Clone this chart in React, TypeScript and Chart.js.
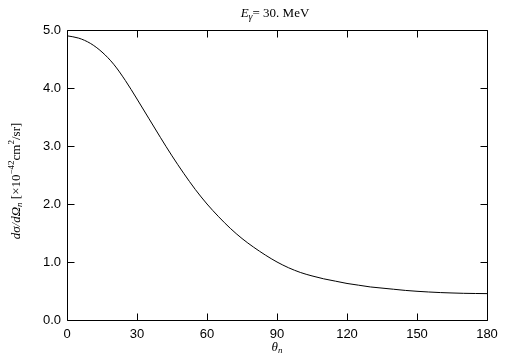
import React, { useEffect, useRef } from "react";
import { Chart, registerables } from "chart.js";

Chart.register(...registerables);

const angles = [0, 5, 10, 15, 20, 25, 30, 35, 40, 45, 50, 55, 60, 65, 70, 75, 80, 85, 90, 95, 100, 105, 110, 115, 120, 125, 130, 135, 140, 145, 150, 155, 160, 165, 170, 175, 180];
const crossSection = [4.9, 4.86, 4.77, 4.62, 4.41, 4.13, 3.81, 3.48, 3.15, 2.83, 2.53, 2.25, 2.0, 1.78, 1.58, 1.405, 1.255, 1.12, 1.0, 0.9, 0.82, 0.76, 0.71, 0.67, 0.63, 0.6, 0.57, 0.55, 0.53, 0.51, 0.495, 0.483, 0.473, 0.466, 0.46, 0.457, 0.455];
const xTicks = [0, 30, 60, 90, 120, 150, 180];
const yTicks = [0, 1, 2, 3, 4, 5];

type Seg = { t: string; it?: boolean; s?: number; size?: number };

const SERIF = '"Liberation Serif", "DejaVu Serif", serif';

function drawSegs(ctx: CanvasRenderingContext2D, segs: Seg[], cx: number, cy: number, base: number) {
  const fontOf = (g: Seg) => `${g.it ? "italic " : ""}${g.size || base}px ${SERIF}`;
  let total = 0;
  for (const g of segs) {
    ctx.font = fontOf(g);
    total += ctx.measureText(g.t).width;
  }
  let x = cx - total / 2;
  ctx.textBaseline = "middle";
  ctx.textAlign = "left";
  for (const g of segs) {
    ctx.font = fontOf(g);
    ctx.fillText(g.t, x, cy + (g.s || 0));
    x += ctx.measureText(g.t).width;
  }
}

const framePlugin = {
  id: "frame",
  afterDraw(chart: any) {
    const ctx: CanvasRenderingContext2D = chart.ctx;
    const { left, right, top, bottom } = chart.chartArea;
    const xs = chart.scales.x;
    const ys = chart.scales.y;
    ctx.save();
    ctx.strokeStyle = "#000";
    ctx.lineWidth = 1;
    const L = Math.round(left) + 0.5;
    const R = Math.round(right) + 0.5;
    const T = Math.round(top) + 0.5;
    const B = Math.round(bottom) + 0.5;
    ctx.beginPath();
    ctx.rect(L, T, R - L, B - T);
    const tl = 7;
    for (const v of xTicks) {
      const px = Math.round(xs.getPixelForValue(v)) + 0.5;
      ctx.moveTo(px, B);
      ctx.lineTo(px, B - tl);
      ctx.moveTo(px, T);
      ctx.lineTo(px, T + tl);
    }
    for (const v of yTicks) {
      const py = Math.round(ys.getPixelForValue(v)) + 0.5;
      ctx.moveTo(L, py);
      ctx.lineTo(L + tl, py);
      ctx.moveTo(R, py);
      ctx.lineTo(R - tl, py);
    }
    ctx.stroke();

    ctx.fillStyle = "#000";
    const cx = (left + right) / 2;
    drawSegs(ctx, [
      { t: "E", it: true },
      { t: "γ", it: true, s: 3, size: 10 },
      { t: "= 30. MeV" },
    ], cx - 2, 14, 13);

    drawSegs(ctx, [
      { t: "θ", it: true },
      { t: "n", it: true, s: 3, size: 9 },
    ], cx, 348, 13);

    ctx.save();
    ctx.translate(17, (top + bottom) / 2 + 6);
    ctx.rotate(-Math.PI / 2);
    drawSegs(ctx, [
      { t: "dσ/dΩ", it: true },
      { t: "n", it: true, s: 3, size: 9 },
      { t: " [×10" },
      { t: "−42", s: -5, size: 9 },
      { t: "cm" },
      { t: "2", s: -5, size: 9 },
      { t: "/sr]" },
    ], 0, 0, 13);
    ctx.restore();
    ctx.restore();
  },
};

export default function App() {
  const ref = useRef<HTMLCanvasElement>(null);
  useEffect(() => {
    document.body.style.margin = "0";
    const chart = new Chart(ref.current as HTMLCanvasElement, {
      type: "line",
      data: {
        datasets: [
          {
            data: angles.map((a, i) => ({ x: a, y: crossSection[i] })),
            borderColor: "#000",
            borderWidth: 1,
            pointRadius: 0,
            cubicInterpolationMode: "monotone",
            fill: false,
          },
        ],
      },
      options: {
        responsive: false,
        animation: false,
        events: [],
        layout: { padding: { top: 30, right: 18, left: 0, bottom: 0 } },
        plugins: { legend: { display: false }, tooltip: { enabled: false }, title: { display: false } },
        scales: {
          x: {
            type: "linear",
            min: 0,
            max: 180,
            afterBuildTicks: (s: any) => { s.ticks = xTicks.map((v) => ({ value: v })); },
            afterFit: (s: any) => { s.height = 41; },
            grid: { display: false, drawTicks: false },
            border: { display: false },
            ticks: { color: "#000", padding: 7, font: { family: '"Liberation Sans", Arial, sans-serif', size: 13 }, maxRotation: 0 },
          },
          y: {
            type: "linear",
            min: 0,
            max: 5,
            afterBuildTicks: (s: any) => { s.ticks = yTicks.map((v) => ({ value: v })); },
            afterFit: (s: any) => { s.width = 67; },
            grid: { display: false, drawTicks: false },
            border: { display: false },
            ticks: { color: "#000", padding: 6, font: { family: '"Liberation Sans", Arial, sans-serif', size: 13 }, callback: (v: any) => Number(v).toFixed(1) },
          },
        },
      },
      plugins: [framePlugin],
    });
    return () => chart.destroy();
  }, []);
  return (
    <div style={{ width: 505, height: 361, background: "#fff" }}>
      <canvas ref={ref} width={505} height={361} />
    </div>
  );
}
